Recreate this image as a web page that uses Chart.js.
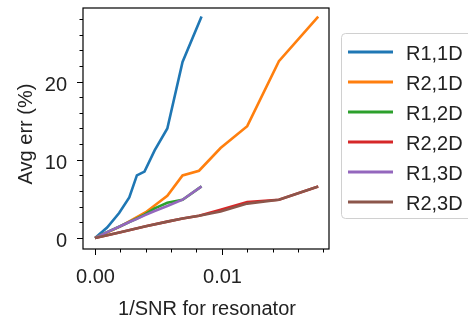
<!DOCTYPE html>
<html>
<head>
<meta charset="utf-8">
<script src="https://cdn.jsdelivr.net/npm/chart.js@4/dist/chart.umd.min.js"></script>
<style>
  html, body { margin: 0; padding: 0; background: #fff; }
  #wrap { width: 468px; height: 320px; position: relative; }
</style>
</head>
<body>
<div id="wrap"><canvas id="grafica" width="468" height="320"></canvas></div>
<script>
// valores
var seriesNames = ["R1,1D", "R2,1D", "R1,2D", "R2,2D", "R1,3D", "R2,3D"];
var seriesColors = ["#1f77b4", "#ff7f0e", "#2ca02c", "#d62728", "#9467bd", "#8c564b"];

var xR1 = [0, 0.00095, 0.0019, 0.0027, 0.0033, 0.0039, 0.0047, 0.0057, 0.0069, 0.0084];
var xR2 = [0, 0.002, 0.004, 0.0057, 0.0069, 0.0082, 0.0099, 0.012, 0.0145, 0.0176];

var yR1_1D = [0, 1.35, 3.2, 5.2, 8.0, 8.5, 11.2, 14.0, 22.5, 28.3];
var yR2_1D = [0, 1.5, 3.3, 5.4, 8.0, 8.6, 11.5, 14.3, 22.6, 28.3];
var yR1_2D = [0, 0.75, 1.45, 2.05, 2.5, 3.0, 3.8, 4.5, 4.9, 6.6];
var yR2_2D = [0, 0.75, 1.5, 2.1, 2.5, 2.85, 3.6, 4.6, 4.9, 6.6];
var yR1_3D = [0, 0.75, 1.45, 2.05, 2.45, 2.9, 3.45, 4.1, 4.9, 6.6];
var yR2_3D = [0, 0.75, 1.5, 2.1, 2.5, 2.85, 3.4, 4.4, 4.9, 6.6];

var xTicksMajor = [0, 0.01];
var xTickLabels = ["0.00", "0.01"];
var yTicksMajor = [0, 10, 20];
var yTickLabels = ["0", "10", "20"];

var xTitle = "1/SNR for resonator";
var yTitle = "Avg err (%)";

function puntos(xs, ys){
    var out = [];
    for (var i = 0; i < xs.length; i++) {
        out.push({x: xs[i], y: ys[i]});
    }
    return out;
}

var xsPorSerie = [xR1, xR2, xR1, xR2, xR1, xR2];
var ysPorSerie = [yR1_1D, yR2_1D, yR1_2D, yR2_2D, yR1_3D, yR2_3D];

var datasets = [];
for (var i = 0; i < seriesNames.length; i++) {
    datasets.push({
        label: seriesNames[i],
        data: puntos(xsPorSerie[i], ysPorSerie[i]),
        borderColor: seriesColors[i],
        backgroundColor: seriesColors[i],
        borderWidth: 2.6,
        pointRadius: 0,
        tension: 0,
        fill: false,
        order: seriesNames.length - i
    });
}

var FUENTE = '"Liberation Sans", Arial, sans-serif';

// ejes, marco y leyenda estilo matplotlib
var marcoPlugin = {
    id: 'marco',
    afterDraw: function(chart){
        var ctx = chart.ctx;
        var a = chart.chartArea;
        var sx = chart.scales.x;
        var sy = chart.scales.y;
        ctx.save();

        // marco
        ctx.strokeStyle = '#000';
        ctx.lineWidth = 1.2;
        ctx.strokeRect(a.left, a.top, a.right - a.left, a.bottom - a.top);

        // ticks x
        ctx.lineWidth = 1;
        var v, p;
        for (var k = 0; k <= 9; k++) {
            v = k * 0.002;
            p = Math.round(sx.getPixelForValue(v)) + 0.5;
            ctx.beginPath();
            ctx.moveTo(p, a.bottom);
            ctx.lineTo(p, a.bottom + 3.5);
            ctx.stroke();
        }
        ctx.fillStyle = '#222';
        ctx.font = '20px ' + FUENTE;
        ctx.textAlign = 'center';
        ctx.textBaseline = 'alphabetic';
        for (var j = 0; j < xTicksMajor.length; j++) {
            p = Math.round(sx.getPixelForValue(xTicksMajor[j])) + 0.5;
            ctx.beginPath();
            ctx.moveTo(p, a.bottom);
            ctx.lineTo(p, a.bottom + 6);
            ctx.stroke();
            ctx.fillText(xTickLabels[j], p, 283);
        }

        // ticks y
        for (var m = 0; m <= 14; m++) {
            v = m * 2;
            p = Math.round(sy.getPixelForValue(v)) + 0.5;
            ctx.beginPath();
            ctx.moveTo(a.left, p);
            ctx.lineTo(a.left - 3.5, p);
            ctx.stroke();
        }
        ctx.textAlign = 'right';
        for (var n = 0; n < yTicksMajor.length; n++) {
            p = Math.round(sy.getPixelForValue(yTicksMajor[n])) + 0.5;
            ctx.beginPath();
            ctx.moveTo(a.left, p);
            ctx.lineTo(a.left - 6, p);
            ctx.stroke();
            ctx.fillText(yTickLabels[n], a.left - 16, p + 8.5);
        }

        // titulos
        ctx.textAlign = 'center';
        ctx.fillText(xTitle, (a.left + a.right) / 2 + 1, 315);
        ctx.save();
        ctx.translate(32, 134);
        ctx.rotate(-Math.PI / 2);
        ctx.fillText(yTitle, 0, 0);
        ctx.restore();

        // leyenda
        var lx = 341, ly = 33, lw = 140, lh = 185;
        ctx.strokeStyle = '#d0d0d0';
        ctx.lineWidth = 1;
        ctx.beginPath();
        if (ctx.roundRect) {
            ctx.roundRect(lx + 0.5, ly + 0.5, lw, lh, 4);
        } else {
            ctx.rect(lx + 0.5, ly + 0.5, lw, lh);
        }
        ctx.fillStyle = 'rgba(255,255,255,0.85)';
        ctx.fill();
        ctx.stroke();

        ctx.textAlign = 'left';
        ctx.font = '20px ' + FUENTE;
        var ds = chart.data.datasets;
        for (var q = 0; q < ds.length; q++) {
            var yy = 52 + q * 30;
            ctx.strokeStyle = ds[q].borderColor;
            ctx.lineWidth = 2.8;
            ctx.beginPath();
            ctx.moveTo(348, yy);
            ctx.lineTo(393, yy);
            ctx.stroke();
            ctx.fillStyle = '#222';
            ctx.fillText(ds[q].label, 406, yy + 7.5);
        }
        ctx.restore();
    }
};

new Chart("grafica", {
    type: "line",
    data: { datasets: datasets },
    options: {
        responsive: false,
        animation: false,
        devicePixelRatio: 1,
        layout: {
            padding: { left: 83, right: 139, top: 8, bottom: 71 }
        },
        plugins: {
            legend: { display: false },
            tooltip: { enabled: false }
        },
        scales: {
            x: { type: 'linear', min: -0.00095, max: 0.01845, display: false },
            y: { type: 'linear', min: -1.4, max: 29.4, display: false }
        }
    },
    plugins: [marcoPlugin]
});
</script>
</body>
</html>
